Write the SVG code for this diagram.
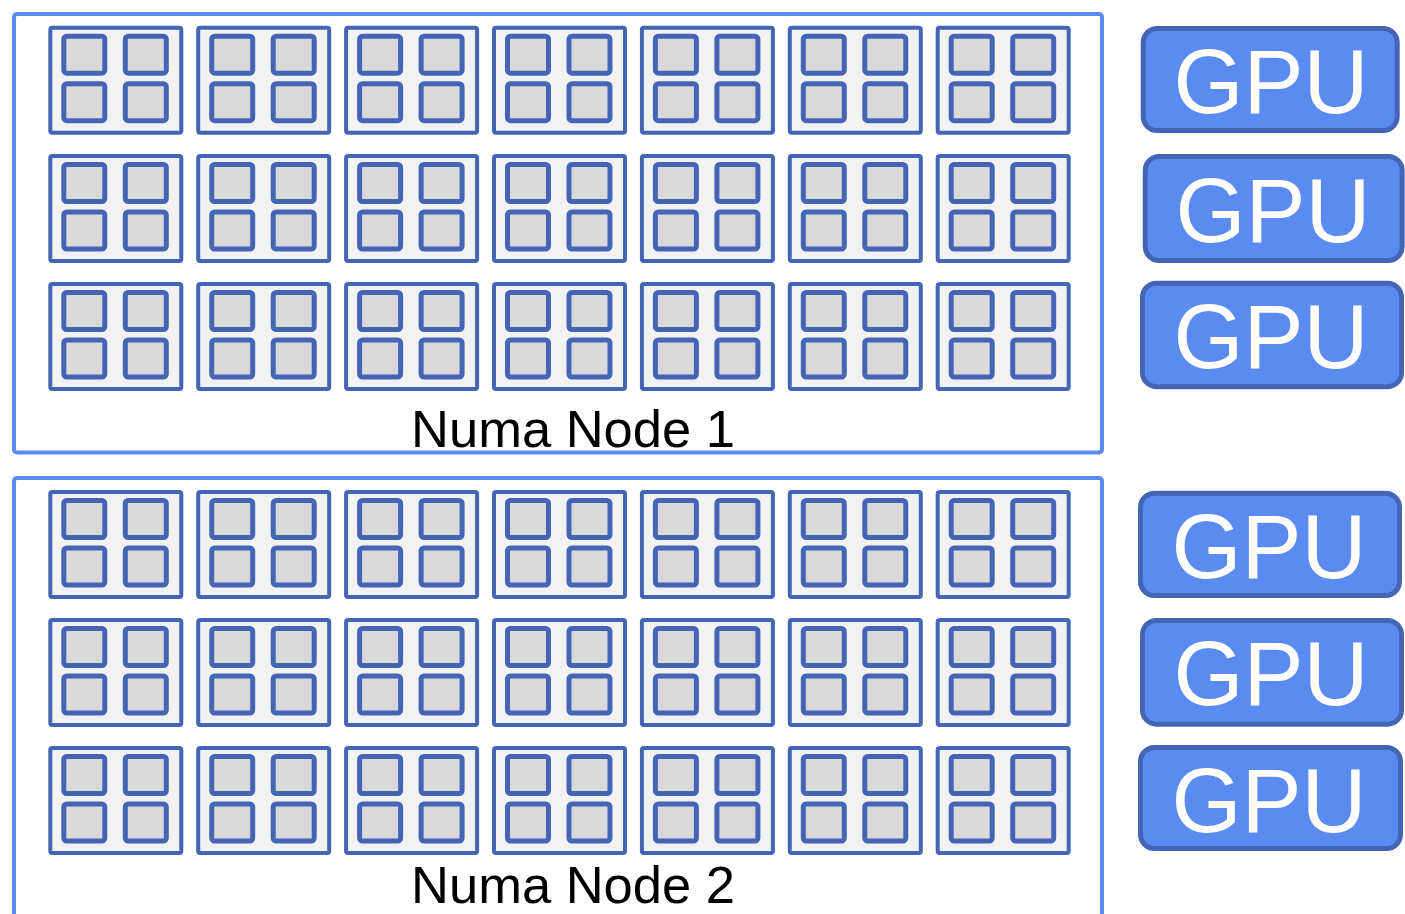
<svg xmlns="http://www.w3.org/2000/svg" xmlns:xlink="http://www.w3.org/1999/xlink" width="1405" height="914" viewBox="0 0 1405 914">
<style>
.numa{fill:#ffffff;stroke:#5b8af0;stroke-width:4}
.chip{fill:#f2f2f2;stroke:#4465b5;stroke-width:4}
.core{fill:#d9d9d9;stroke:#4465b5;stroke-width:5}
.gpu{fill:#5b8af0;stroke:#4465b5;stroke-width:5}
.gput{font-family:"Liberation Sans",Arial,sans-serif;font-size:90px;fill:#ffffff;text-anchor:middle}
.lbl{font-family:"Liberation Sans",Arial,sans-serif;font-size:52.5px;fill:#000000;text-anchor:middle}
</style>
<defs>
<g id="chip">
<rect class="chip" x="0" y="0" width="131" height="105" rx="2"/>
<rect class="core" x="13.5" y="8.5" width="41" height="37" rx="3"/>
<rect class="core" x="75" y="8.5" width="41" height="37" rx="3"/>
<rect class="core" x="13.5" y="56" width="41" height="37" rx="3"/>
<rect class="core" x="75" y="56" width="41" height="37" rx="3"/>
</g>
</defs>
<rect width="1405" height="914" fill="#ffffff"/>
<g id="numa1">
<rect class="numa" x="14" y="14" width="1088" height="438.5" rx="3"/>
<text class="lbl" x="573" y="446.5">Numa Node 1</text>
</g>
<g id="numa2">
<rect class="numa" x="14" y="478" width="1088" height="450" rx="3"/>
<text class="lbl" x="573" y="903">Numa Node 2</text>
</g>
<g id="n1r1c1" transform="translate(50.3,27.7)"><use href="#chip"/></g>
<g id="n1r1c2" transform="translate(198.2,27.7)"><use href="#chip"/></g>
<g id="n1r1c3" transform="translate(346.1,27.7)"><use href="#chip"/></g>
<g id="n1r1c4" transform="translate(494,27.7)"><use href="#chip"/></g>
<g id="n1r1c5" transform="translate(641.9,27.7)"><use href="#chip"/></g>
<g id="n1r1c6" transform="translate(789.8,27.7)"><use href="#chip"/></g>
<g id="n1r1c7" transform="translate(937.7,27.7)"><use href="#chip"/></g>
<g id="n1r2c1" transform="translate(50.3,156)"><use href="#chip"/></g>
<g id="n1r2c2" transform="translate(198.2,156)"><use href="#chip"/></g>
<g id="n1r2c3" transform="translate(346.1,156)"><use href="#chip"/></g>
<g id="n1r2c4" transform="translate(494,156)"><use href="#chip"/></g>
<g id="n1r2c5" transform="translate(641.9,156)"><use href="#chip"/></g>
<g id="n1r2c6" transform="translate(789.8,156)"><use href="#chip"/></g>
<g id="n1r2c7" transform="translate(937.7,156)"><use href="#chip"/></g>
<g id="n1r3c1" transform="translate(50.3,284)"><use href="#chip"/></g>
<g id="n1r3c2" transform="translate(198.2,284)"><use href="#chip"/></g>
<g id="n1r3c3" transform="translate(346.1,284)"><use href="#chip"/></g>
<g id="n1r3c4" transform="translate(494,284)"><use href="#chip"/></g>
<g id="n1r3c5" transform="translate(641.9,284)"><use href="#chip"/></g>
<g id="n1r3c6" transform="translate(789.8,284)"><use href="#chip"/></g>
<g id="n1r3c7" transform="translate(937.7,284)"><use href="#chip"/></g>
<g id="n2r1c1" transform="translate(50.3,492)"><use href="#chip"/></g>
<g id="n2r1c2" transform="translate(198.2,492)"><use href="#chip"/></g>
<g id="n2r1c3" transform="translate(346.1,492)"><use href="#chip"/></g>
<g id="n2r1c4" transform="translate(494,492)"><use href="#chip"/></g>
<g id="n2r1c5" transform="translate(641.9,492)"><use href="#chip"/></g>
<g id="n2r1c6" transform="translate(789.8,492)"><use href="#chip"/></g>
<g id="n2r1c7" transform="translate(937.7,492)"><use href="#chip"/></g>
<g id="n2r2c1" transform="translate(50.3,620)"><use href="#chip"/></g>
<g id="n2r2c2" transform="translate(198.2,620)"><use href="#chip"/></g>
<g id="n2r2c3" transform="translate(346.1,620)"><use href="#chip"/></g>
<g id="n2r2c4" transform="translate(494,620)"><use href="#chip"/></g>
<g id="n2r2c5" transform="translate(641.9,620)"><use href="#chip"/></g>
<g id="n2r2c6" transform="translate(789.8,620)"><use href="#chip"/></g>
<g id="n2r2c7" transform="translate(937.7,620)"><use href="#chip"/></g>
<g id="n2r3c1" transform="translate(50.3,748)"><use href="#chip"/></g>
<g id="n2r3c2" transform="translate(198.2,748)"><use href="#chip"/></g>
<g id="n2r3c3" transform="translate(346.1,748)"><use href="#chip"/></g>
<g id="n2r3c4" transform="translate(494,748)"><use href="#chip"/></g>
<g id="n2r3c5" transform="translate(641.9,748)"><use href="#chip"/></g>
<g id="n2r3c6" transform="translate(789.8,748)"><use href="#chip"/></g>
<g id="n2r3c7" transform="translate(937.7,748)"><use href="#chip"/></g>
<g id="gpu1"><rect class="gpu" x="1143.2" y="28.5" width="254" height="102" rx="14"/><text class="gput" x="1271" y="113">GPU</text></g>
<g id="gpu2"><rect class="gpu" x="1145.2" y="156.5" width="257" height="104" rx="14"/><text class="gput" x="1273" y="241.5">GPU</text></g>
<g id="gpu3"><rect class="gpu" x="1142.5" y="283.2" width="259" height="103.5" rx="14"/><text class="gput" x="1271" y="368">GPU</text></g>
<g id="gpu4"><rect class="gpu" x="1140.5" y="493.2" width="259" height="102.3" rx="14"/><text class="gput" x="1269" y="578">GPU</text></g>
<g id="gpu5"><rect class="gpu" x="1142.5" y="620.5" width="259" height="103.7" rx="14"/><text class="gput" x="1271" y="705">GPU</text></g>
<g id="gpu6"><rect class="gpu" x="1140.5" y="747.5" width="260" height="101" rx="14"/><text class="gput" x="1269" y="832">GPU</text></g>
<g id="connectors"></g>
</svg>
